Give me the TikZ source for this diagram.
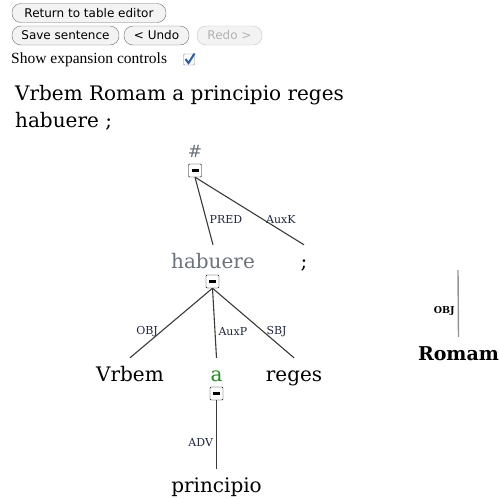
\documentclass[tikz,border=0pt]{standalone}
\usepackage{fontspec}
\setmainfont{DejaVu Serif}
\newfontfamily\btnfont{DejaVu Sans}
\newfontfamily\uifont{Liberation Serif}
\usetikzlibrary{positioning}
\definecolor{wordgray}{HTML}{6C717C}
\definecolor{labelnavy}{HTML}{1E2540}
\definecolor{wordgreen}{HTML}{1C8A1C}
\definecolor{btnedge}{HTML}{6E6E6E}
\definecolor{btnfill}{HTML}{F3F3F3}
\definecolor{checkblue}{HTML}{2A5DB5}
\definecolor{treegray}{HTML}{3A3A3A}

\begin{document}
\begin{tikzpicture}[x=1pt, y=-1pt,
    btn/.style={draw=btnedge, fill=btnfill, rounded corners=9pt, minimum height=19pt, inner sep=0pt, font=\btnfont\fontsize{12}{14}\selectfont},
    word/.style={inner xsep=0pt, inner ysep=7pt, text height=16pt, text depth=5pt, anchor=base, font=\fontsize{20}{24}\selectfont},
    lab/.style={inner xsep=3pt, inner ysep=0pt, text=labelnavy, font=\fontsize{11}{13}\selectfont},
    toggle/.style={draw, fill=white, rounded corners=1pt, minimum size=13pt, inner sep=0pt,
      path picture={\draw[line width=2.2pt] ([xshift=-3.5pt]path picture bounding box.center) -- ([xshift=3.5pt]path picture bounding box.center);}},
    treeline/.style={draw=treegray, line width=1.1pt}]
  \useasboundingbox (0,0) rectangle (499,499);

  % buttons and controls
  \node[btn, minimum width=154pt] (back) at (89,13) {Return to table editor};
  \node[btn, minimum width=107pt] (save) at (65.5,35.5) {Save sentence};
  \node[btn, minimum width=65pt] (undo) at (156.5,35.5) {< Undo};
  \node[btn, minimum width=65pt, draw=btnedge!40, text=gray!60] (redo) at (229.5,35.5) {Redo >};
  \node[anchor=base west, inner sep=0pt, font=\uifont\fontsize{15.5}{17}\selectfont] (showtext) at (11,63) {Show expansion controls};
  \node[draw=gray, fill=white, rounded corners=1pt, minimum size=11pt, inner sep=0pt] (showbox) at (189,59.5) {};
  \draw[checkblue, line width=2pt] (185.5,59) -- (188.5,63) -- (194.5,53.5);

  % sentence
  \node[anchor=base west, inner sep=0pt, font=\fontsize{20}{24}\selectfont] (sentA) at (15,100) {Vrbem Romam a principio reges};
  \node[anchor=base west, inner sep=0pt, font=\fontsize{20}{24}\selectfont] (sentB) at (15,127) {habuere ;};

  % tree
  \node[word, text=wordgray, font=\fontsize{17}{20}\selectfont] (root) at (195,157) {\#};
  \node[toggle] (rootbox) at (195,170.5) {};
  \node[word, text=wordgray] (habuere) at (213,268) {habuere};
  \node[word] (semi) at (304,268) {;};
  \node[toggle] (habbox) at (212.5,281.5) {};
  \node[word] (vrbem) at (130,381) {Vrbem};
  \node[word, text=wordgreen] (a) at (216.5,381) {a};
  \node[word] (reges) at (294,381) {reges};
  \node[toggle] (abox) at (216.5,393.5) {};
  \node[word] (principio) at (216.5,492) {principio};
  \path[treeline]
    (rootbox.south) edge node[lab, pos=.62, anchor=west] {PRED} (habuere.north)
    (rootbox.south) edge node[lab, pos=.62, anchor=west] {AuxK} (semi.north)
    (habbox.south) edge node[lab, pos=.62, anchor=east] {OBJ} (vrbem.north)
    (habbox.south) edge node[lab, pos=.62, anchor=west] {AuxP} (a.north)
    (habbox.south) edge node[lab, pos=.62, anchor=west] {SBJ} (reges.north)
    (abox.south) edge node[lab, pos=.62, anchor=east] {ADV} (principio.north);

  % detached node
  \coordinate (romtop) at (458,270);
  \node[word, font=\bfseries\fontsize{19}{23}\selectfont] (romam) at (458.5,360) {Romam};
  \path[draw=gray!85, line width=1.4pt]
    (romtop) edge node[lab, pos=.62, anchor=east, text=black, font=\bfseries\fontsize{9.5}{11}\selectfont] {OBJ} (romam.north);
\end{tikzpicture}
\end{document}
